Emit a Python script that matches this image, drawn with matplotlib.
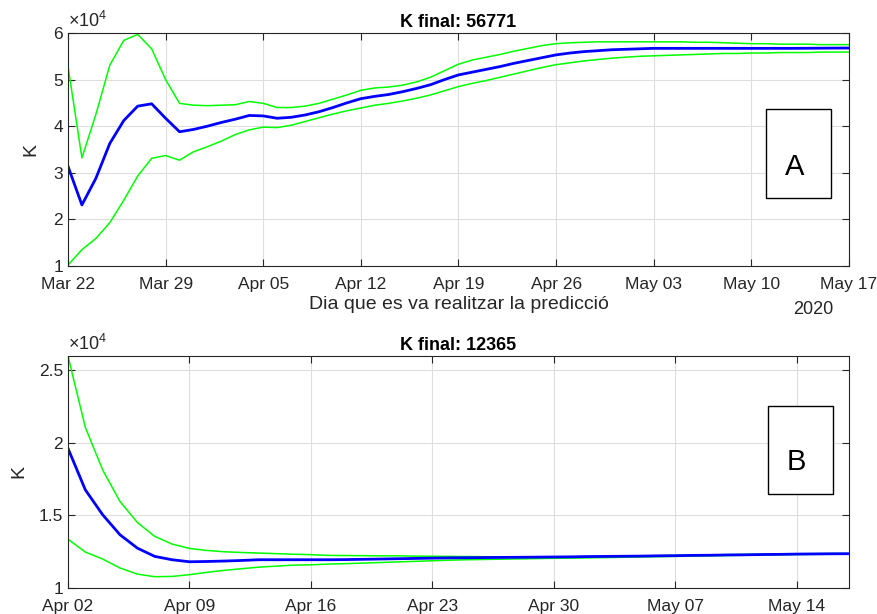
"""
K estimate per prediction day, two panels (A and B), MATLAB look.
"""

import matplotlib
matplotlib.use("Agg")
import matplotlib.pyplot as plt
import matplotlib.dates as mdates
from matplotlib.patches import Rectangle
from matplotlib.ticker import FuncFormatter
import pandas as pd

plt.rcParams["font.family"] = ["Liberation Sans", "DejaVu Sans"]
plt.rcParams["mathtext.fontset"] = "custom"
plt.rcParams["mathtext.rm"] = "Liberation Sans"

# ---- panel A: Mar 22 .. May 17 (daily) ----
dates_a = pd.date_range("2020-03-22", "2020-05-17", freq="D")
k_a = [31400, 23100, 28800, 36300, 41200, 44300, 44800, 41700, 38800, 39300,
       40000, 40800, 41500, 42300, 42200, 41700, 41900, 42400, 43100, 44000,
       45000, 45900, 46400, 46800, 47400, 48100, 48900, 50000, 51000, 51600,
       52200, 52800, 53500, 54100, 54700, 55300, 55700, 56000, 56200, 56400,
       56500, 56600, 56700, 56700, 56700, 56700, 56700, 56700, 56700, 56700,
       56700, 56700, 56700, 56720, 56740, 56760, 56771]
k_a_hi = [52900, 33200, 42500, 53100, 58400, 59700, 56600, 50000, 44900, 44500,
          44400, 44500, 44600, 45300, 44900, 44000, 44000, 44300, 44900, 45800,
          46700, 47700, 48200, 48400, 48800, 49500, 50500, 51900, 53300, 54200,
          54800, 55400, 56100, 56700, 57300, 57700, 57900, 58000, 58100, 58100,
          58100, 58100, 58100, 58100, 58100, 58000, 58000, 57900, 57800, 57700,
          57700, 57600, 57600, 57600, 57500, 57500, 57500]
k_a_lo = [10200, 13500, 15900, 19300, 24100, 29300, 33100, 33700, 32700, 34500,
          35600, 36800, 38200, 39200, 39800, 39700, 40200, 41000, 41800, 42600,
          43300, 43900, 44500, 44900, 45400, 46000, 46700, 47600, 48500, 49200,
          49800, 50500, 51200, 51900, 52600, 53200, 53600, 54000, 54300, 54600,
          54800, 55000, 55100, 55200, 55300, 55400, 55500, 55600, 55600, 55700,
          55700, 55800, 55800, 55800, 55900, 55900, 55900]

# ---- panel B: Apr 02 .. May 17 (daily) ----
dates_b = pd.date_range("2020-04-02", "2020-05-17", freq="D")
k_b = [19630, 16770, 15050, 13670, 12750, 12180, 11950, 11810, 11830, 11860,
       11900, 11950, 11950, 11950, 11950, 11950, 11960, 11980, 12000, 12020,
       12040, 12060, 12080, 12090, 12100, 12110, 12120, 12130, 12140, 12150,
       12170, 12180, 12190, 12200, 12220, 12230, 12250, 12260, 12280, 12290,
       12310, 12320, 12340, 12350, 12360, 12365]
k_b_hi = [26000, 21080, 18140, 15960, 14520, 13560, 13030, 12730, 12590, 12500,
          12450, 12410, 12370, 12330, 12300, 12250, 12240, 12230, 12220, 12220,
          12200, 12190, 12180, 12170, 12160, 12150, 12140, 12140, 12130, 12140,
          12150, 12170, 12190, 12210, 12230, 12250, 12270, 12290, 12300, 12320,
          12330, 12350, 12360, 12370, 12380, 12380]
k_b_lo = [13370, 12480, 12000, 11380, 10960, 10780, 10800, 10920, 11080, 11220,
          11330, 11440, 11510, 11580, 11600, 11650, 11680, 11720, 11760, 11800,
          11840, 11880, 11920, 11950, 11970, 11990, 12010, 12030, 12050, 12060,
          12080, 12100, 12120, 12140, 12160, 12180, 12200, 12220, 12240, 12260,
          12280, 12290, 12310, 12320, 12330, 12340]

AX_COLOR = "#262626"
GRID_COLOR = "#dedede"


def style_axes(ax):
    for s in ax.spines.values():
        s.set_color(AX_COLOR)
        s.set_linewidth(0.8)
    ax.tick_params(direction="in", top=True, right=True, length=5,
                   colors=AX_COLOR, labelsize=12.5, width=0.8)
    ax.tick_params(axis="x", pad=8)
    ax.grid(True, color=GRID_COLOR, linewidth=0.8)
    ax.set_axisbelow(True)
    ax.yaxis.set_major_formatter(FuncFormatter(lambda v, p: f"{v / 1e4:g}"))
    ax.text(0, 1.008, r"$\times10^{4}$", transform=ax.transAxes,
            fontsize=13, color=AX_COLOR, ha="left", va="bottom")


def label_box(ax, rect, pos, letter):
    ax.add_patch(Rectangle(rect[:2], rect[2], rect[3], transform=ax.transAxes,
                           fc="white", ec="black", lw=1.0, zorder=5))
    ax.text(pos[0], pos[1], letter, transform=ax.transAxes, fontsize=21,
            ha="center", va="center", zorder=6)


fig = plt.figure(figsize=(8.77, 6.14), dpi=100)

ax1 = fig.add_axes([0.0775, 0.5668, 0.8905, 0.3795])
ax1.plot(dates_a, k_a_hi, color=(0, 1, 0), lw=1.1)
ax1.plot(dates_a, k_a_lo, color=(0, 1, 0), lw=1.1)
ax1.plot(dates_a, k_a, color=(0, 0, 1), lw=2.0)
ax1.set_xlim(dates_a[0], dates_a[-1])
ax1.set_ylim(10000, 60000)
ax1.set_xticks(dates_a[::7])
ax1.xaxis.set_major_formatter(mdates.DateFormatter("%b %d"))
style_axes(ax1)
ax1.set_ylabel("K", fontsize=14, color=AX_COLOR, labelpad=10)
ax1.set_title("K final: 56771", fontsize=13, fontweight="bold", pad=4)
ax1.set_xlabel("Dia que es va realitzar la predicció", fontsize=14,
               color=AX_COLOR, labelpad=3)
ax1.text(0.954, -0.185, "2020", transform=ax1.transAxes, fontsize=13,
         color=AX_COLOR, ha="center", va="center")
label_box(ax1, (0.894, 0.292, 0.0832, 0.382), (0.930, 0.425), "A")

ax2 = fig.add_axes([0.0775, 0.0423, 0.8905, 0.378])
ax2.plot(dates_b, k_b_hi, color=(0, 1, 0), lw=1.1)
ax2.plot(dates_b, k_b_lo, color=(0, 1, 0), lw=1.1)
ax2.plot(dates_b, k_b, color=(0, 0, 1), lw=2.0)
ax2.set_xlim(dates_b[0], dates_b[-1])
ax2.set_ylim(10000, 26000)
ax2.set_yticks([10000, 15000, 20000, 25000])
ax2.set_xticks(dates_b[:-1:7])
ax2.xaxis.set_major_formatter(mdates.DateFormatter("%b %d"))
style_axes(ax2)
ax2.set_ylabel("K", fontsize=14, color=AX_COLOR, labelpad=8)
ax2.set_title("K final: 12365", fontsize=13, fontweight="bold", pad=4)
label_box(ax2, (0.896, 0.405, 0.0832, 0.379), (0.933, 0.545), "B")

fig.savefig("out.png", dpi=100)
